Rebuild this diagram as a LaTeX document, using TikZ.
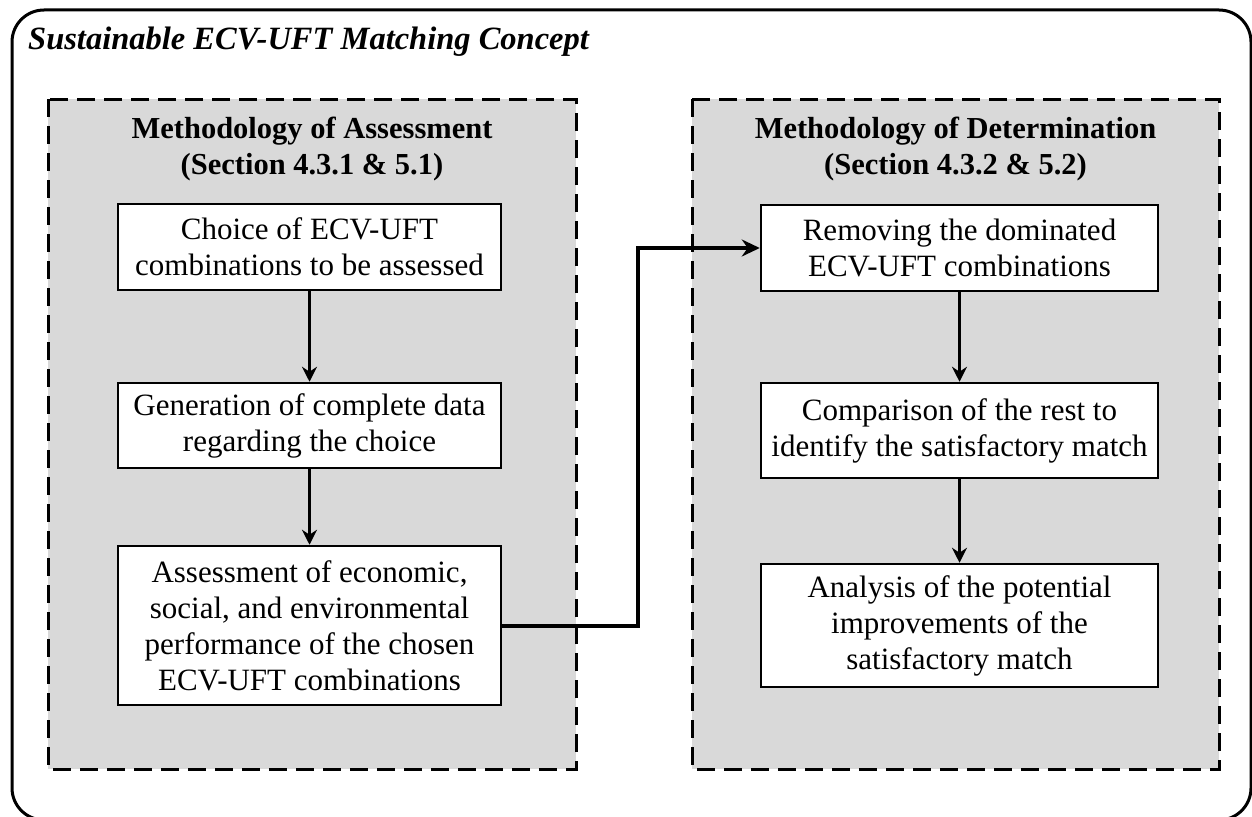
\documentclass[tikz,border=0pt]{standalone}
\usepackage{fontspec}
\setmainfont{Liberation Serif}
\usetikzlibrary{arrows.meta}
\definecolor{panelgray}{HTML}{D9D9D9}
\begin{document}
\begin{tikzpicture}[x=1pt,y=-1pt,
  procbox/.style={draw=black, line width=2.5pt, fill=white, align=center, inner sep=0pt,
    font=\fontsize{31}{36}\selectfont},
  leftbox/.style={procbox, minimum width=383pt},
  rightbox/.style={procbox, minimum width=397pt},
  panel/.style={draw=black, line width=3pt, fill=panelgray, dash pattern=on 18pt off 9pt},
  frame/.style={draw=black, line width=3pt, rounded corners=32pt},
  flow/.style={line width=2.5pt, -{Stealth[length=15pt,width=15pt,inset=5pt]}},
  link/.style={line width=4pt, -{Stealth[length=18pt,width=17pt,inset=6pt]}},
  heading/.style={align=center, inner sep=0pt, font=\bfseries\fontsize{30.5}{36}\selectfont},
  titletext/.style={anchor=base west, inner sep=0pt, font=\bfseries\itshape\fontsize{32.5}{36}\selectfont}]
\useasboundingbox (0,0) rectangle (1252,816);
\fill[white] (0,0) rectangle (1252,816);
% outer frame
\draw[frame] (12,10) rectangle (1251,820);
% panels
\draw[panel] (48,99) rectangle (576,769);
\draw[panel] (692,99) rectangle (1219,769);
% title
\node[titletext] (title) at (28,50) {Sustainable ECV-UFT Matching Concept};
% headings
\node[heading] (hl) at (312,149) {Methodology of Assessment\\(Section 4.3.1 \& 5.1)};
\node[heading] (hr) at (955.5,149) {Methodology of Determination\\(Section 4.3.2 \& 5.2)};
% left column
\node[leftbox, minimum height=86pt] (b1) at (309.5,247) {Choice of ECV-UFT\\combinations to be assessed};
\node[leftbox, minimum height=85pt] (b2) at (309.5,425.5) {Generation of complete data\\regarding the choice};
\node[leftbox, minimum height=159pt] (b3) at (309.5,625.5) {Assessment of economic,\\social, and environmental\\performance of the chosen\\ECV-UFT combinations};
% right column
\node[rightbox, minimum height=86pt] (r1) at (959.5,248) {Removing the dominated\\ECV-UFT combinations};
\node[rightbox, minimum height=95pt] (r2) at (959.5,430.5) {Comparison of the rest to\\identify the satisfactory match};
\node[rightbox, minimum height=123pt] (r3) at (959.5,625.5) {Analysis of the potential\\improvements of the\\satisfactory match};
% connectors
\draw[flow] (b1) -- (b2);
\draw[flow] (b2) -- (b3);
\draw[flow] (r1) -- (r2);
\draw[flow] (r2) -- (r3);
\draw[link] (b3.east) -- ++(136,0) |- (r1.west);
\end{tikzpicture}
\end{document}
